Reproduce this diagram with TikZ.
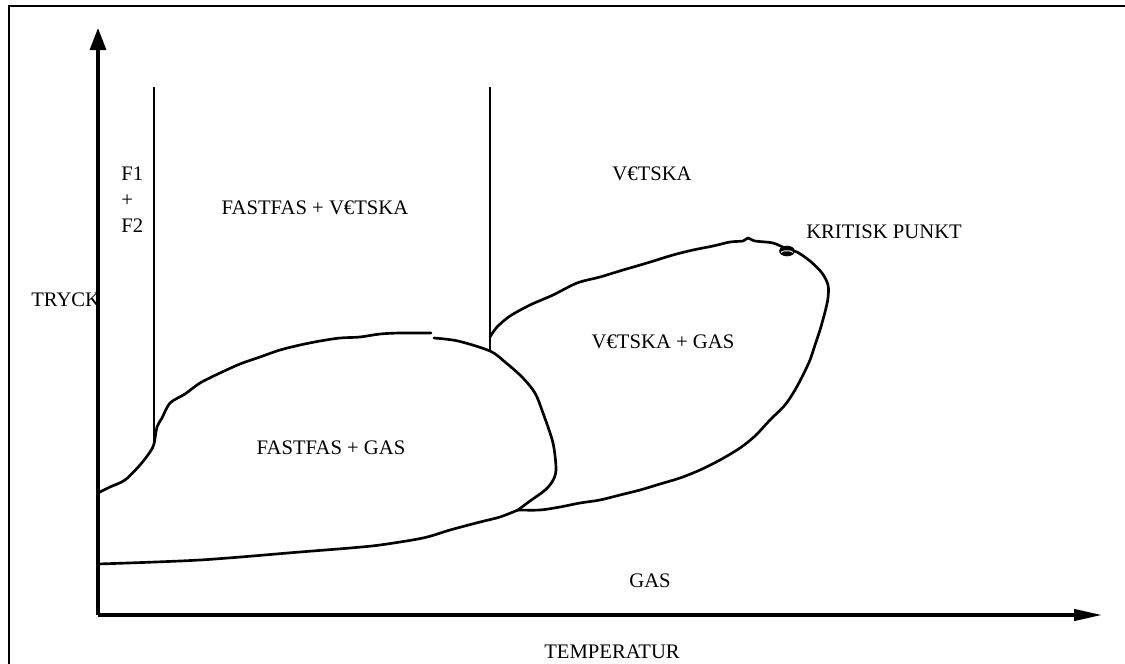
\documentclass[tikz,border=0pt]{standalone}
\usepackage{fontspec}
\setmainfont{Liberation Serif}
\usetikzlibrary{arrows.meta,shapes.geometric}
\begin{document}
\begin{tikzpicture}[x=0.75pt,y=-0.75pt,
  lbl/.style={inner sep=0pt,anchor=base,font=\fontsize{15.5}{19.5}\selectfont},
  axis/.style={line width=2.4pt},
  curve/.style={line width=2pt,line join=round,line cap=round},
  phase/.style={line width=1.9pt}]
\useasboundingbox (0,0) rectangle (1125,664);
% frame
\draw[line width=2.2pt] (9,670) -- (9,6) -- (1130,6);
% axes
\coordinate (O) at (98,615);
\coordinate (ytip) at (98,28);
\coordinate (xtip) at (1102,615);
\draw[axis,-{Triangle[length=16.5pt,width=12pt]}] (O) -- (ytip);
\draw[axis,-{Triangle[length=21pt,width=8.5pt]}] (O) -- (xtip);
% vertical phase lines
\coordinate (v1t) at (154,87); \coordinate (v1b) at (154,444);
\coordinate (v2t) at (490,87); \coordinate (v2b) at (490,351);
\draw[phase] (v1t) -- (v1b);
\draw[phase] (v2t) -- (v2b);
% solid + gas upper boundary
\draw[curve] plot[smooth,tension=0.5] coordinates {
 (98,493) (110,487) (125,480) (140,465) (150,452) (154,444) (157,427) (162,418)
 (170,403) (185,394) (200,383) (220,373) (240,364) (260,357) (280,350) (300,345)
 (320,341) (340,338) (360,337) (380,334) (400,333) (431,333)};
\draw[curve] plot[smooth,tension=0.5] coordinates {
 (434,338) (458,341) (490,351) (505,362) (522,377) (535,393) (543,413) (553,443)
 (556,470) (552,482) (544,491) (530,501) (518,510)};
% lower boundary
\draw[curve] plot[smooth,tension=0.5] coordinates {
 (518,510) (500,517) (480,522) (450,530) (423,538) (380,545) (350,548) (300,552)
 (200,560) (98,564)};
% liquid + gas envelope
\draw[curve] plot[smooth,tension=0.5] coordinates {
 (518,510) (540,510) (560,507) (580,503) (600,500) (620,495) (640,490) (660,484)
 (680,478) (700,470) (720,460) (740,448) (755,436) (770,420) (785,405) (795,390)
 (803,375) (810,360) (815,345) (820,330) (825,312) (828,298) (828,285) (822,273)
 (810,261) (797,252) (787,249) (773,243) (755,241) (748,238) (743,241) (730,242)
 (713,246) (693,250) (673,255) (647,263) (623,270) (600,277) (577,283) (553,295)
 (530,305) (510,316) (497,327) (490,337)};
% critical point
\node[draw,fill=black,ellipse,line width=1.2pt,minimum width=10.5pt,minimum height=6.75pt,inner sep=0pt] (kp) at (787,251) {};
\draw[white,line width=0.7pt] (781,252.5) arc[start angle=200,end angle=340,x radius=6.3,y radius=2.8];
% labels
\node[lbl,anchor=base west] (f1) at (121,180) {F1};
\node[lbl,anchor=base west] (plus) at (121,206) {+};
\node[lbl,anchor=base west] (f2) at (121,232) {F2};
\node[lbl] (fv) at (315,214) {FASTFAS + V€TSKA};
\node[lbl] (v) at (652,180) {V€TSKA};
\node[lbl,anchor=base west] (kpl) at (806,238) {KRITISK PUNKT};
\node[lbl,anchor=base west] (tryck) at (31,306) {TRYCK};
\node[lbl] (vg) at (663,348) {V€TSKA + GAS};
\node[lbl] (fg) at (331,454) {FASTFAS + GAS};
\node[lbl] (gas) at (650,587) {GAS};
\node[lbl] (temp) at (612,658) {TEMPERATUR};
\end{tikzpicture}
\end{document}
